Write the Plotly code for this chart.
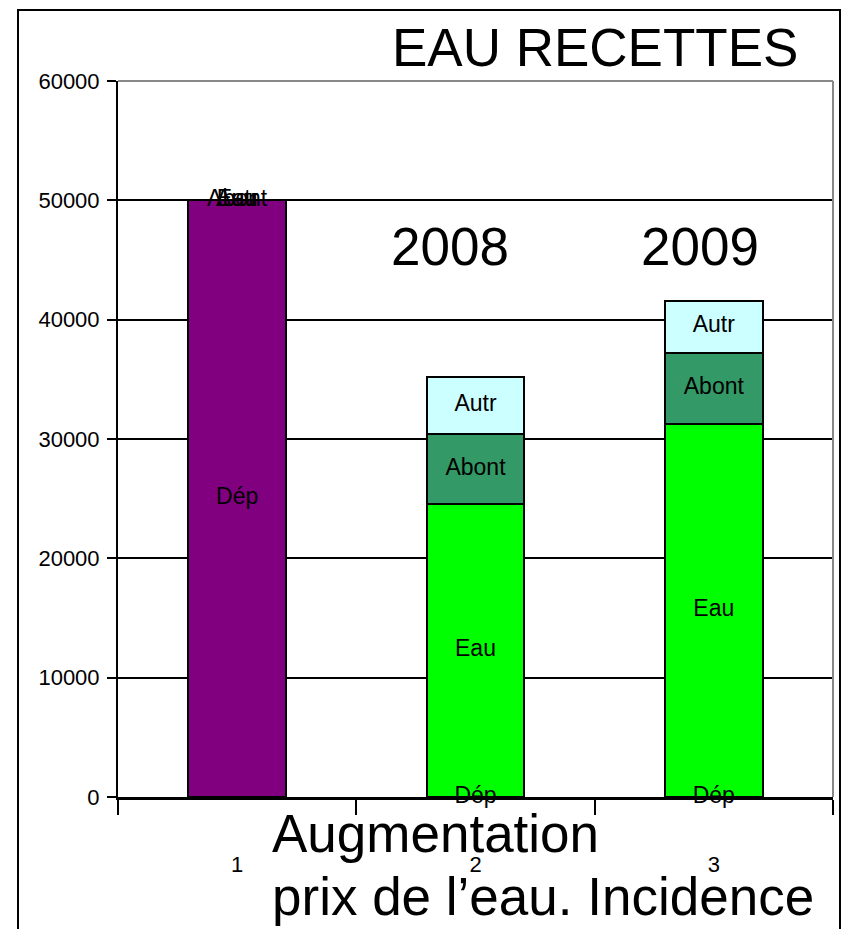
import plotly.graph_objects as go

# données
categories = ["1", "2", "3"]
series_names = ["Dép", "Eau", "Abont", "Autr"]
dep = [50000, 0, 0]
eau = [0, 24550, 31250]
abont = [0, 5870, 5980]
autr = [0, 4750, 4360]
colors = ["#800080", "#00FF00", "#339966", "#CCFFFF"]

year_labels = ["2008", "2009"]

# la page ajoute ~8 px de marge autour du graphique
OFF = 8
W, H = 850 - 2 * OFF, 937 - 2 * OFF
L, T = 118 - OFF, 81 - OFF
pw, ph = 715, 716
R, B = W - L - pw, H - T - ph


def px(x):
    return (x - OFF - L) / pw


def py(y):
    return (H - B - (y - OFF)) / ph


regular = "Liberation Sans, Arial, sans-serif"

fig = go.Figure()
values = [dep, eau, abont, autr]
for name, vals, col in zip(series_names, values, colors):
    fig.add_trace(go.Bar(
        x=categories, y=vals, name=name,
        marker=dict(color=col, line=dict(color="black", width=2)),
    ))

# étiquettes des segments (nom de la série au milieu du segment)
base = [0, 0, 0]
for name, vals in zip(series_names, values):
    mids = [b + v / 2 for b, v in zip(base, vals)]
    fig.add_trace(go.Scatter(
        x=categories, y=mids, mode="text", text=[name] * len(categories),
        textfont=dict(family=regular, size=23, color="black"),
        cliponaxis=False, showlegend=False, hoverinfo="skip",
    ))
    base = [b + v for b, v in zip(base, vals)]

fig.update_layout(
    width=W, height=H,
    margin=dict(l=L, r=R, t=T, b=B, autoexpand=False),
    barmode="stack", bargap=0.59,
    plot_bgcolor="white", paper_bgcolor="white",
    showlegend=False,
    font=dict(family=regular, color="black"),
)
fig.update_yaxes(
    range=[0, 60000], dtick=10000, tickformat="d",
    showgrid=True, gridcolor="black", gridwidth=2,
    showline=True, linecolor="black", linewidth=2,
    ticks="outside", ticklen=9, tickwidth=2, tickcolor="black",
    ticklabelstandoff=3, zeroline=False,
    tickfont=dict(family=regular, size=22, color="black"),
)
fig.update_xaxes(
    type="category", tickson="boundaries",
    showline=True, linecolor="black", linewidth=3,
    ticks="outside", ticklen=15, tickwidth=2, tickcolor="black",
    ticklabelstandoff=46,
    tickfont=dict(family=regular, size=22, color="black"),
)

# bord gris haut / droite de la zone de tracé, cadre extérieur
fig.add_shape(type="line", xref="paper", yref="paper", x0=0, x1=1, y0=1, y1=1,
              line=dict(color="#888888", width=2), layer="above")
fig.add_shape(type="line", xref="paper", yref="paper", x0=1, x1=1, y0=0, y1=1,
              line=dict(color="#888888", width=2), layer="above")
fig.add_shape(type="rect", xref="paper", yref="paper",
              x0=px(18), x1=px(840), y0=py(960), y1=py(10),
              line=dict(color="black", width=2))

big = dict(family=regular, size=53, color="black")
fig.add_annotation(text="EAU RECETTES", xref="paper", yref="paper",
                   x=px(800), y=py(47), xanchor="right", yanchor="middle",
                   showarrow=False, font=big)
for label, cx in zip(year_labels, [450, 700]):
    fig.add_annotation(text=label, xref="paper", yref="paper",
                       x=px(cx), y=py(246), xanchor="center", yanchor="middle",
                       showarrow=False, font=big)
fig.add_annotation(text="Augmentation", xref="paper", yref="paper",
                   x=px(270), y=py(833), xanchor="left", yanchor="middle",
                   showarrow=False, font=big)
fig.add_annotation(text="prix de l’eau. Incidence", xref="paper", yref="paper",
                   x=px(270), y=py(897), xanchor="left", yanchor="middle",
                   showarrow=False, font=big)

fig.write_html("out.html")
